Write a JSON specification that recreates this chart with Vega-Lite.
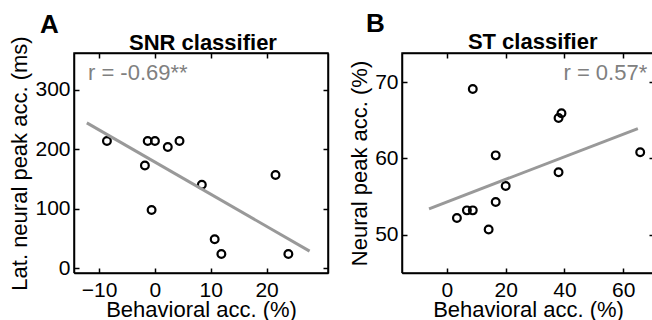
{
  "$schema": "https://vega.github.io/schema/vega-lite/v6.json",
  "padding": {"left": 8, "top": 11, "right": 0, "bottom": 0},
  "background": "white",
  "config": {
    "font": "Liberation Sans",
    "view": {"stroke": null},
    "axis": {
      "grid": false,
      "labelFontSize": 21,
      "labelColor": "black",
      "labelFont": "Liberation Sans",
      "titleFont": "Liberation Sans",
      "titleFontSize": 22,
      "titleFontWeight": "normal",
      "titleColor": "black"
    },
    "axisX": {"titlePadding": -1},
    "axisY": {"titlePadding": 3},
    "title": {"font": "Liberation Sans", "fontSize": 26, "fontWeight": "bold", "color": "black", "anchor": "start", "frame": "group", "offset": -6},
    "concat": {"spacing": 17}
  },
  "datasets": {
    "pointsA": [
      {"behavioral": -8.6, "latency": 214},
      {"behavioral": -1.3, "latency": 214},
      {"behavioral": 0.0, "latency": 214},
      {"behavioral": 2.3, "latency": 204},
      {"behavioral": 4.4, "latency": 214},
      {"behavioral": -1.8, "latency": 173},
      {"behavioral": 8.4, "latency": 140.5},
      {"behavioral": 21.6, "latency": 157},
      {"behavioral": -0.6, "latency": 98},
      {"behavioral": 10.7, "latency": 49},
      {"behavioral": 11.9, "latency": 24},
      {"behavioral": 23.9, "latency": 24}
    ],
    "lineA": [
      {"behavioral": -12.2, "latency": 244.5},
      {"behavioral": 27.7, "latency": 29}
    ],
    "boxA": [
      {"behavioral": -14.5, "latency": -7.8, "o": 1},
      {"behavioral": 31, "latency": -7.8, "o": 2},
      {"behavioral": 31, "latency": 362, "o": 3},
      {"behavioral": -14.5, "latency": 362, "o": 4},
      {"behavioral": -14.5, "latency": -7.8, "o": 5}
    ],
    "pointsB": [
      {"behavioral": 8.8, "neural": 69.1},
      {"behavioral": 38.0, "neural": 65.3},
      {"behavioral": 39.0, "neural": 65.9},
      {"behavioral": 16.6, "neural": 60.4},
      {"behavioral": 65.8, "neural": 60.8},
      {"behavioral": 3.4, "neural": 52.2},
      {"behavioral": 6.8, "neural": 53.2},
      {"behavioral": 8.8, "neural": 53.2},
      {"behavioral": 14.2, "neural": 50.7},
      {"behavioral": 16.6, "neural": 54.3},
      {"behavioral": 20.0, "neural": 56.4},
      {"behavioral": 38.0, "neural": 58.2}
    ],
    "lineB": [
      {"behavioral": -6.1, "neural": 53.4},
      {"behavioral": 65.0, "neural": 63.9}
    ],
    "boxB": [
      {"behavioral": -15.3, "neural": 45, "o": 1},
      {"behavioral": 70.5, "neural": 45, "o": 2},
      {"behavioral": 70.5, "neural": 73.8, "o": 3},
      {"behavioral": -15.3, "neural": 73.8, "o": 4},
      {"behavioral": -15.3, "neural": 45, "o": 5}
    ],
    "labelsA": [{"label": "r = -0.69**", "name": "SNR classifier"}],
    "labelsB": [{"label": "r = 0.57*", "name": "ST classifier"}]
  },
  "hconcat": [
    {
      "width": 254,
      "height": 220,
      "title": {"text": "A", "dx": -34},
      "resolve": {"axis": {"x": "independent", "y": "independent"}},
      "layer": [
        {
          "data": {"name": "pointsA"},
          "mark": {"type": "point", "shape": "circle", "filled": false, "stroke": "black", "strokeWidth": 2.2, "size": 60, "opacity": 1},
          "encoding": {
            "x": {"field": "behavioral", "type": "quantitative", "scale": {"domain": [-14.5, 31], "nice": false, "zero": false},
                  "axis": {"values": [-10, 0, 10, 20], "title": "Behavioral acc. (%)", "domain": true, "domainColor": "black", "domainWidth": 1.5, "domainOpacity": 1, "domainDash": [], "ticks": true, "tickColor": "black", "tickWidth": 1.5, "tickOpacity": 1, "tickDash": [], "tickSize": -5, "labelPadding": 11, "zindex": 1}},
            "y": {"field": "latency", "type": "quantitative", "scale": {"domain": [-7.8, 362], "nice": false, "zero": false},
                  "axis": {"values": [0, 100, 200, 300], "title": "Lat. neural peak acc. (ms)", "domain": true, "domainColor": "black", "domainWidth": 1.5, "domainOpacity": 1, "domainDash": [], "ticks": true, "tickColor": "black", "tickWidth": 1.5, "tickOpacity": 1, "tickDash": [], "tickSize": -5, "labelPadding": 9, "zindex": 1}}
          }
        },
        {
          "data": {"name": "lineA"},
          "mark": {"type": "line", "color": "#999999", "strokeWidth": 3},
          "encoding": {
            "x": {"field": "behavioral", "type": "quantitative",
                  "axis": {"orient": "top", "values": [-10, 0, 10, 20], "labels": false, "title": null, "domain": true, "domainColor": "black", "domainWidth": 1.5, "domainOpacity": 1, "domainDash": [], "ticks": true, "tickColor": "black", "tickWidth": 1.5, "tickOpacity": 1, "tickDash": [], "tickSize": -5, "zindex": 1}},
            "y": {"field": "latency", "type": "quantitative",
                  "axis": {"orient": "right", "values": [0, 100, 200, 300], "labels": false, "title": null, "domain": true, "domainColor": "black", "domainWidth": 1.5, "domainOpacity": 1, "domainDash": [], "ticks": true, "tickColor": "black", "tickWidth": 1.5, "tickOpacity": 1, "tickDash": [], "tickSize": -5, "zindex": 1}}
          }
        },
        {
          "data": {"name": "boxA"},
          "mark": {"type": "line", "color": "black", "strokeWidth": 1.5},
          "encoding": {
            "x": {"field": "behavioral", "type": "quantitative", "axis": null},
            "y": {"field": "latency", "type": "quantitative", "axis": null},
            "order": {"field": "o", "type": "quantitative"}
          }
        },
        {
          "data": {"name": "labelsA"},
          "mark": {"type": "text", "align": "left", "baseline": "alphabetic", "fontSize": 22, "color": "#808080"},
          "encoding": {
            "text": {"field": "label"},
            "x": {"datum": -12, "type": "quantitative", "axis": null},
            "y": {"datum": 317, "type": "quantitative", "axis": null}
          }
        },
        {
          "data": {"name": "labelsA"},
          "mark": {"type": "text", "align": "center", "baseline": "alphabetic", "fontSize": 22, "fontWeight": "bold", "color": "black"},
          "encoding": {
            "text": {"field": "name"},
            "x": {"datum": 8.6, "type": "quantitative", "axis": null},
            "y": {"datum": 367.7, "type": "quantitative", "axis": null}
          }
        }
      ]
    },
    {
      "width": 252,
      "height": 220,
      "title": {"text": "B", "dx": -36},
      "resolve": {"axis": {"x": "independent", "y": "independent"}},
      "layer": [
        {
          "data": {"name": "pointsB"},
          "mark": {"type": "point", "shape": "circle", "filled": false, "stroke": "black", "strokeWidth": 2.2, "size": 60, "opacity": 1},
          "encoding": {
            "x": {"field": "behavioral", "type": "quantitative", "scale": {"domain": [-15.3, 70.5], "nice": false, "zero": false},
                  "axis": {"values": [0, 20, 40, 60], "title": "Behavioral acc. (%)", "domain": true, "domainColor": "black", "domainWidth": 1.5, "domainOpacity": 1, "domainDash": [], "ticks": true, "tickColor": "black", "tickWidth": 1.5, "tickOpacity": 1, "tickDash": [], "tickSize": -5, "labelPadding": 11, "zindex": 1}},
            "y": {"field": "neural", "type": "quantitative", "scale": {"domain": [45, 73.8], "nice": false, "zero": false},
                  "axis": {"values": [50, 60, 70], "title": "Neural peak acc. (%)", "domain": true, "domainColor": "black", "domainWidth": 1.5, "domainOpacity": 1, "domainDash": [], "ticks": true, "tickColor": "black", "tickWidth": 1.5, "tickOpacity": 1, "tickDash": [], "tickSize": -5, "labelPadding": 9, "zindex": 1}}
          }
        },
        {
          "data": {"name": "lineB"},
          "mark": {"type": "line", "color": "#999999", "strokeWidth": 3},
          "encoding": {
            "x": {"field": "behavioral", "type": "quantitative",
                  "axis": {"orient": "top", "values": [0, 20, 40, 60], "labels": false, "title": null, "domain": true, "domainColor": "black", "domainWidth": 1.5, "domainOpacity": 1, "domainDash": [], "ticks": true, "tickColor": "black", "tickWidth": 1.5, "tickOpacity": 1, "tickDash": [], "tickSize": -5, "zindex": 1}},
            "y": {"field": "neural", "type": "quantitative",
                  "axis": {"orient": "right", "values": [50, 60, 70], "labels": false, "title": null, "domain": true, "domainColor": "black", "domainWidth": 1.5, "domainOpacity": 1, "domainDash": [], "ticks": true, "tickColor": "black", "tickWidth": 1.5, "tickOpacity": 1, "tickDash": [], "tickSize": -5, "zindex": 1}}
          }
        },
        {
          "data": {"name": "boxB"},
          "mark": {"type": "line", "color": "black", "strokeWidth": 1.5},
          "encoding": {
            "x": {"field": "behavioral", "type": "quantitative", "axis": null},
            "y": {"field": "neural", "type": "quantitative", "axis": null},
            "order": {"field": "o", "type": "quantitative"}
          }
        },
        {
          "data": {"name": "labelsB"},
          "mark": {"type": "text", "align": "right", "baseline": "alphabetic", "fontSize": 22, "color": "#808080"},
          "encoding": {
            "text": {"field": "label"},
            "x": {"datum": 68.2, "type": "quantitative", "axis": null},
            "y": {"datum": 70.3, "type": "quantitative", "axis": null}
          }
        },
        {
          "data": {"name": "labelsB"},
          "mark": {"type": "text", "align": "center", "baseline": "alphabetic", "fontSize": 22, "fontWeight": "bold", "color": "black"},
          "encoding": {
            "text": {"field": "name"},
            "x": {"datum": 29.2, "type": "quantitative", "axis": null},
            "y": {"datum": 74.3, "type": "quantitative", "axis": null}
          }
        }
      ]
    }
  ]
}
